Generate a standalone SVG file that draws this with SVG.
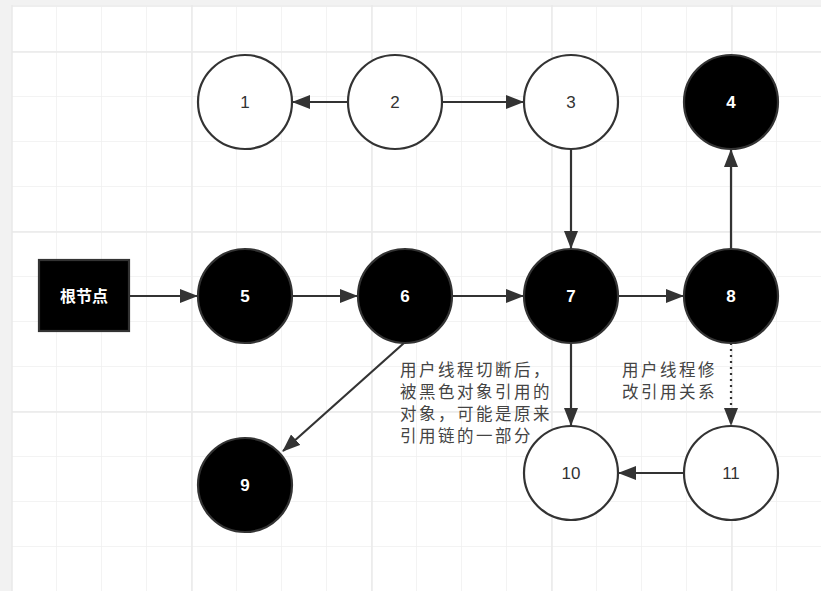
<svg xmlns="http://www.w3.org/2000/svg" width="821" height="591" viewBox="0 0 821 591">
<defs>
<marker id="ah" viewBox="0 0 18 14" refX="17" refY="7" markerWidth="18" markerHeight="14" markerUnits="userSpaceOnUse" orient="auto">
<path d="M0,0 L18,7 L0,14 Z" fill="#333"/>
</marker>
<pattern id="grid" x="12" y="7" width="45" height="45" patternUnits="userSpaceOnUse">
<path d="M45,0 V45 M0,45 H45" fill="none" stroke="#efefef" stroke-width="1.5"/>
</pattern>
</defs>
<style>
.n{stroke:#333;stroke-width:2.2}
.w{fill:#fff}
.b{fill:#000}
.lw{font-family:"Liberation Sans","DejaVu Sans",sans-serif;font-size:17px;fill:#333;text-anchor:middle}
.lb{font-family:"Liberation Sans","DejaVu Sans",sans-serif;font-size:17px;font-weight:bold;fill:#fff;text-anchor:middle}
.c{fill:none;stroke:#333;stroke-width:2.2}
.t{font-family:"Noto Sans CJK SC","Noto Sans",sans-serif;font-size:16.5px;fill:#444;letter-spacing:2.5px}
</style>
<rect width="821" height="591" fill="#f2f2f2"/>
<rect x="12" y="5" width="809" height="586" fill="#fff"/>
<rect x="12" y="7" width="809" height="584" fill="url(#grid)"/>
<g stroke="#eaeaea" stroke-width="1.5">
<path d="M192,5 V591 M372,5 V591 M552,5 V591 M732,5 V591 M12,52 H821 M12,232 H821 M12,412 H821"/>
</g>
<line x1="12" y1="5" x2="12" y2="591" stroke="#e8e8e8" stroke-width="1.5"/>
<line x1="12" y1="6" x2="821" y2="6" stroke="#e8e8e8" stroke-width="1.5"/>

<g id="connectors">
<line class="c" x1="348" y1="102" x2="293" y2="102" marker-end="url(#ah)"/>
<line class="c" x1="443" y1="102" x2="523" y2="102" marker-end="url(#ah)"/>
<line class="c" x1="571" y1="149" x2="571" y2="248" marker-end="url(#ah)"/>
<line class="c" x1="731" y1="249" x2="731" y2="150" marker-end="url(#ah)"/>
<line class="c" x1="129" y1="296" x2="197" y2="296" marker-end="url(#ah)"/>
<line class="c" x1="292" y1="296" x2="357" y2="296" marker-end="url(#ah)"/>
<line class="c" x1="452" y1="296" x2="523" y2="296" marker-end="url(#ah)"/>
<line class="c" x1="618" y1="296" x2="683" y2="296" marker-end="url(#ah)"/>
<line class="c" x1="404" y1="343" x2="283" y2="451" marker-end="url(#ah)"/>
<line class="c" x1="571" y1="343" x2="571" y2="425" marker-end="url(#ah)"/>
<line class="c" x1="731" y1="343" x2="731" y2="425" stroke-dasharray="2 4" marker-end="url(#ah)"/>
<line class="c" x1="684" y1="473" x2="619" y2="473" marker-end="url(#ah)"/>
</g>

<g id="root"><rect x="39" y="260" width="90" height="71" fill="#000" stroke="#333" stroke-width="2.2"/><text x="84" y="302" class="lb" style="font-family:'Noto Sans CJK SC',sans-serif;font-size:16px">根节点</text></g>
<g id="n1"><circle class="n w" cx="245" cy="102" r="47"/><text class="lw" x="245" y="108">1</text></g>
<g id="n2"><circle class="n w" cx="395" cy="102" r="47"/><text class="lw" x="395" y="108">2</text></g>
<g id="n3"><circle class="n w" cx="571" cy="102" r="47"/><text class="lw" x="571" y="108">3</text></g>
<g id="n4"><circle class="n b" cx="731" cy="102" r="47"/><text class="lb" x="731" y="108">4</text></g>
<g id="n5"><circle class="n b" cx="245" cy="296" r="47"/><text class="lb" x="245" y="302">5</text></g>
<g id="n6"><circle class="n b" cx="405" cy="296" r="47"/><text class="lb" x="405" y="302">6</text></g>
<g id="n7"><circle class="n b" cx="571" cy="296" r="47"/><text class="lb" x="571" y="302">7</text></g>
<g id="n8"><circle class="n b" cx="731" cy="296" r="47"/><text class="lb" x="731" y="302">8</text></g>
<g id="n9"><circle class="n b" cx="245" cy="485" r="47"/><text class="lb" x="245" y="491">9</text></g>
<g id="n10"><circle class="n w" cx="571" cy="473" r="47"/><text class="lw" x="571" y="479">10</text></g>
<g id="n11"><circle class="n w" cx="731" cy="473" r="47"/><text class="lw" x="731" y="479">11</text></g>

<g id="label1" class="t">
<text x="400" y="376">用户线程切断后，</text>
<text x="400" y="398">被黑色对象引用的</text>
<text x="400" y="420">对象，可能是原来</text>
<text x="400" y="442">引用链的一部分</text>
</g>
<g id="label2" class="t">
<text x="622" y="376">用户线程修</text>
<text x="622" y="398">改引用关系</text>
</g>
</svg>
